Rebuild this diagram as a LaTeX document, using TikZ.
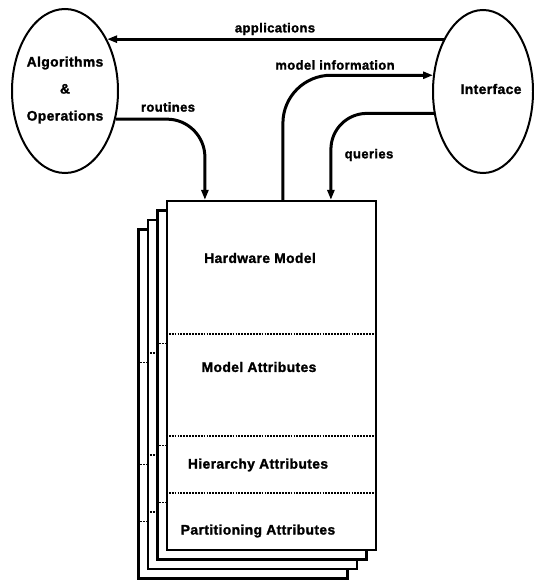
\documentclass[tikz,border=0pt]{standalone}
\usepackage{fontspec}
\setmainfont{Liberation Sans}
\newfontfamily\heavyfont{Liberation Sans Bold}[FakeBold=1.6,LetterSpace=3]
\usetikzlibrary{shapes.geometric,arrows.meta}
\begin{document}
\begin{tikzpicture}[x=1pt,y=-1pt,
  ell/.style={draw,ellipse,line width=2pt,inner sep=0pt,fill=white},
  sheet/.style={draw,rectangle,line width=2.2pt,fill=white,minimum width=209pt,minimum height=349pt,inner sep=0pt},
  divider/.style={line width=1.3pt,dash pattern=on 1.8pt off 1.1pt},
  flow/.style={line width=3pt,-{Triangle[length=10pt,width=7pt]}},
  lbl/.style={font=\fontsize{13}{15}\heavyfont,inner sep=0pt},
  txt/.style={font=\fontsize{13.8}{16}\heavyfont,inner sep=0pt}
]
\useasboundingbox[fill=white] (0,0) rectangle (534,580);

% ellipses
\node[ell,minimum width=106pt,minimum height=164pt] (alg) at (65,91) {};
\node[txt,align=center] (algtxt) at (65,90) {Algorithms\\[11pt]\&\\[11pt]Operations};
\node[ell,minimum width=100pt,minimum height=163pt] (int) at (483,91.5) {};
\node[txt] (inttxt) at (491,89) {Interface};

% stack of sheets
\foreach \k in {3,2,1,0}{
  \node[sheet] (box\k) at ({271.5-9.5*\k},{375.5+9.5*\k}) {};
  \foreach \d in {134,236,293}{
    \draw[divider] ([yshift=-\d pt]box\k.north west) -- ([yshift=-\d pt]box\k.north east);
  }
}
\node[txt] (hwm) at (260,258) {Hardware Model};
\node[txt] (mat) at (259,367) {Model Attributes};
\node[txt] (hat) at (258,465) {Hierarchy Attributes};
\node[txt] (pat) at (258,531) {Partitioning Attributes};

% connectors
\draw[flow] (int.127) -- (int.127 -| alg.51);
\draw[flow,rounded corners=38pt] (alg.-29) -| ([xshift=39pt]box0.north west);
\draw[flow,rounded corners=48pt] ([xshift=117pt]box0.north west) |- (int.162);
\draw[flow,rounded corners=36pt] (int.204) -| ([xshift=165pt]box0.north west);

% connector labels
\node[lbl] (lapp) at (275,29) {applications};
\node[lbl] (lmod) at (335,65) {model information};
\node[lbl] (lrou) at (168,107) {routines};
\node[lbl] (lque) at (369,155) {queries};
\end{tikzpicture}
\end{document}
